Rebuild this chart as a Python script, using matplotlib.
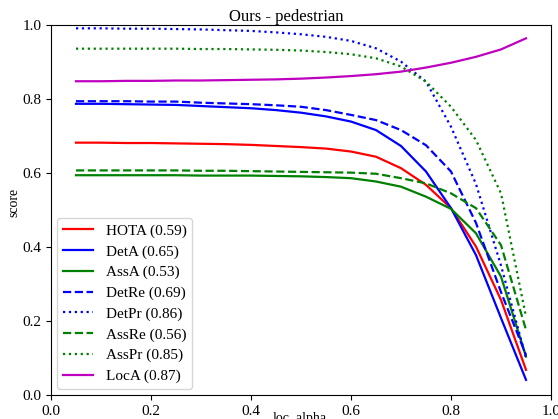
import matplotlib
matplotlib.use("Agg")
import matplotlib.pyplot as plt

alphas = [0.05, 0.10, 0.15, 0.20, 0.25, 0.30, 0.35, 0.40, 0.45, 0.50,
          0.55, 0.60, 0.65, 0.70, 0.75, 0.80, 0.85, 0.90, 0.95]

hota = [0.682, 0.682, 0.681, 0.681, 0.680, 0.679, 0.678, 0.676, 0.673, 0.670,
        0.666, 0.658, 0.644, 0.613, 0.568, 0.505, 0.401, 0.257, 0.068]
deta = [0.787, 0.787, 0.786, 0.785, 0.784, 0.781, 0.778, 0.775, 0.770, 0.763,
        0.753, 0.739, 0.716, 0.673, 0.604, 0.505, 0.378, 0.208, 0.041]
assa = [0.594, 0.594, 0.594, 0.594, 0.594, 0.593, 0.593, 0.593, 0.592, 0.591,
        0.589, 0.586, 0.577, 0.563, 0.536, 0.503, 0.437, 0.320, 0.104]
detre = [0.794, 0.794, 0.794, 0.793, 0.793, 0.790, 0.788, 0.786, 0.783, 0.779,
         0.770, 0.757, 0.743, 0.716, 0.675, 0.604, 0.465, 0.278, 0.108]
detpr = [0.991, 0.991, 0.990, 0.990, 0.989, 0.988, 0.986, 0.984, 0.980, 0.975,
         0.968, 0.957, 0.937, 0.901, 0.847, 0.725, 0.570, 0.350, 0.100]
assre = [0.607, 0.607, 0.607, 0.607, 0.607, 0.606, 0.606, 0.605, 0.604, 0.603,
         0.602, 0.601, 0.598, 0.586, 0.572, 0.545, 0.505, 0.405, 0.176]
asspr = [0.936, 0.936, 0.936, 0.936, 0.936, 0.935, 0.935, 0.934, 0.933, 0.931,
         0.927, 0.921, 0.910, 0.888, 0.847, 0.779, 0.689, 0.545, 0.212]
loca = [0.848, 0.848, 0.849, 0.849, 0.850, 0.850, 0.851, 0.852, 0.853, 0.855,
        0.858, 0.862, 0.867, 0.874, 0.885, 0.898, 0.914, 0.934, 0.964]

series = [
    ("HOTA (0.59)", hota, "r", "-"),
    ("DetA (0.65)", deta, "b", "-"),
    ("AssA (0.53)", assa, "g", "-"),
    ("DetRe (0.69)", detre, "b", "--"),
    ("DetPr (0.86)", detpr, "b", ":"),
    ("AssRe (0.56)", assre, "g", "--"),
    ("AssPr (0.85)", asspr, "g", ":"),
    ("LocA (0.87)", loca, "m", "-"),
]

plt.rcParams['font.family'] = ['Liberation Serif', 'DejaVu Serif']

fig = plt.figure(figsize=(5.58, 4.19), dpi=100)
ax = fig.add_axes([51/558, 1-395/419, 500/558, 370/419])

for label, vals, c, ls in series:
    ax.plot(alphas, vals, color=c, linestyle=ls, linewidth=1.6, label=label)

ax.set_xlim(0, 1)
ax.set_ylim(0, 1)
ax.set_xticks([0.0, 0.2, 0.4, 0.6, 0.8, 1.0])
ax.set_yticks([0.0, 0.2, 0.4, 0.6, 0.8, 1.0])
ax.tick_params(labelsize=11)
ax.set_title("Ours - pedestrian", fontsize=12, pad=3, x=0.47)
ax.set_ylabel("score", fontsize=10)
ax.set_xlabel("loc_alpha", fontsize=10)
ax.xaxis.set_label_coords(0.498, -0.045)
ax.yaxis.set_label_coords(-0.062, 0.52)

ax.legend(loc="lower left", fontsize=11, handlelength=2.0, borderpad=0.38,
          labelspacing=0.45, borderaxespad=0.4)

fig.savefig("out.png", dpi=100)
